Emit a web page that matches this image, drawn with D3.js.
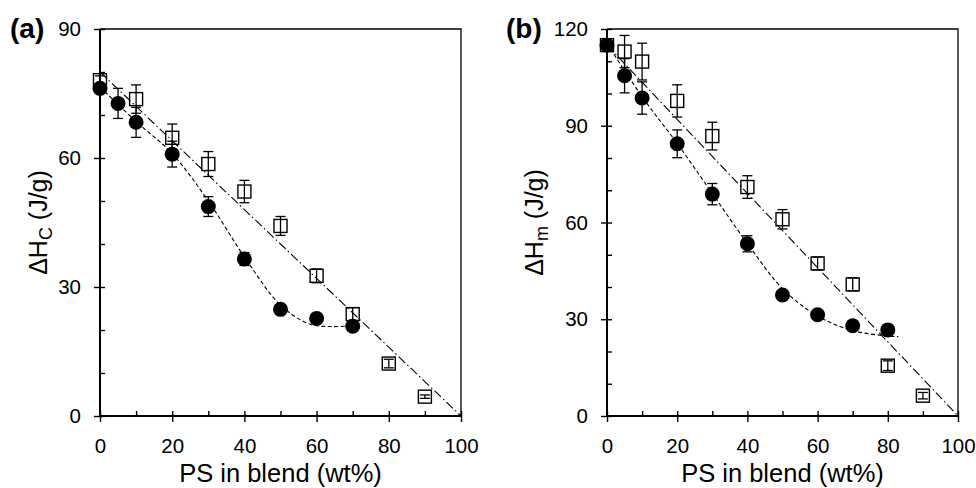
<!DOCTYPE html>
<html>
<head>
<meta charset="utf-8">
<script src="https://cdn.jsdelivr.net/npm/d3@7"></script>
<style>
  body { margin: 0; background: #fff; }
  svg { display: block; font-family: Arial, "Liberation Sans", sans-serif; }
</style>
</head>
<body>
<svg id="chart" width="976" height="488"></svg>
<script>
// panel (a): crystallization enthalpy
const psCircleA = [0, 5, 10, 20, 30, 40, 50, 60, 70];
const hcCircle = [76.2, 72.7, 68.3, 60.9, 48.7, 36.5, 24.8, 22.7, 20.9];
const hcCircleErr = [1, 3.5, 3.5, 3, 2.3, 1.5, 0.6, 0.5, 0.5];
const psSquareA = [0, 10, 20, 30, 40, 50, 60, 70, 80, 90];
const hcSquare = [78.1, 73.7, 64.7, 58.6, 52.2, 44.2, 32.6, 23.7, 12.2, 4.5];
const hcSquareErr = [1, 3.3, 3.2, 2.9, 2.6, 2.2, 1.6, 1.5, 1, 0.4];
// fitted guide lines
const hcCurveX = [0, 10, 20, 30, 40, 50, 58, 64, 70];
const hcCurveY = [76.5, 68.5, 61, 50, 37, 25.8, 21.4, 20.8, 21];
const hcLineX = [0, 100];
const hcLineY = [80, 0];

// panel (b): melting enthalpy
const psCircleB = [0, 5, 10, 20, 30, 40, 50, 60, 70, 80];
const hmCircle = [115, 105.5, 98.6, 84.4, 68.8, 53.4, 37.5, 31.4, 28, 26.7];
const hmCircleErr = [1.5, 5.3, 5, 4.3, 3.3, 2.5, 1, 0.8, 0.6, 0.6];
const psSquareB = [0, 5, 10, 20, 30, 40, 50, 60, 70, 80, 90];
const hmSquare = [115, 113, 109.9, 97.7, 86.8, 71, 61, 47.3, 40.8, 15.6, 6.3];
const hmSquareErr = [1.5, 5, 5.7, 5, 4.3, 3.5, 3, 2, 2, 1.5, 1];
const hmCurveX = [0, 10, 20, 30, 40, 50, 60, 70, 80, 83];
const hmCurveY = [115.5, 99, 84.5, 69, 53.5, 39.5, 31, 26.5, 24.8, 24.6];
const hmLineX = [0, 100];
const hmLineY = [115, 0];

const xTicks = [0, 20, 40, 60, 80, 100];

const svg = d3.select('#chart');

function zip(xs, ys, es) {
  return xs.map((x, i) => ({ x, y: ys[i], e: es ? es[i] : 0 }));
}

function drawPanel(p) {
  const { left, right, top, bottom, yMax, yTicks } = p;
  const x = d3.scaleLinear().domain([0, 100]).range([left, right]);
  const y = d3.scaleLinear().domain([0, yMax]).range([bottom, top]);
  const g = svg.append('g');

  // frame (top/right thin)
  g.append('path')
    .attr('d', `M${left},${top}H${right}V${bottom}`)
    .attr('fill', 'none').attr('stroke', '#000').attr('stroke-width', 1.3);

  // inward ticks every 10
  const yIn = g.append('g').attr('transform', `translate(${left},0)`)
    .call(d3.axisLeft(y).tickValues(d3.range(0, yMax + 1, 10)).tickSize(-5).tickFormat(''));
  const xIn = g.append('g').attr('transform', `translate(0,${bottom})`)
    .call(d3.axisBottom(x).tickValues(d3.range(0, 101, 10)).tickSize(-5).tickFormat(''));

  // outward major ticks with labels
  const yOut = g.append('g').attr('transform', `translate(${left},0)`)
    .call(d3.axisLeft(y).tickValues(yTicks).tickSize(6).tickPadding(13).tickFormat(d3.format('d')));
  const xOut = g.append('g').attr('transform', `translate(0,${bottom})`)
    .call(d3.axisBottom(x).tickValues(xTicks).tickSize(6).tickPadding(16).tickFormat(d3.format('d')));

  [yIn, xIn, yOut, xOut].forEach(a => {
    a.select('.domain').remove();
    a.selectAll('line').attr('stroke', '#000').attr('stroke-width', 1.4);
    a.selectAll('text').attr('fill', '#000').attr('font-size', 20.5)
      .attr('font-family', 'Arial, "Liberation Sans", sans-serif');
  });

  // left and bottom axis lines (thick)
  g.append('path')
    .attr('d', `M${left},${top}V${bottom}H${right}`)
    .attr('fill', 'none').attr('stroke', '#000').attr('stroke-width', 2);

  const line = d3.line().x(d => x(d.x)).y(d => y(d.y));

  // straight dash-dot guide for open squares
  g.append('path')
    .datum(zip(p.lineX, p.lineY))
    .attr('d', line)
    .attr('fill', 'none').attr('stroke', '#000').attr('stroke-width', 1.1)
    .attr('stroke-dasharray', '9,3,1.5,3');

  // dashed curve for filled circles
  g.append('path')
    .datum(zip(p.curveX, p.curveY))
    .attr('d', line.curve(d3.curveCatmullRom.alpha(0.5)))
    .attr('fill', 'none').attr('stroke', '#000').attr('stroke-width', 1.1)
    .attr('stroke-dasharray', '4,2.5');

  const sq = zip(p.sqX, p.sqY, p.sqErr);
  const ci = zip(p.ciX, p.ciY, p.ciErr);

  function errorBars(data) {
    const eb = g.append('g').attr('stroke', '#000').attr('stroke-width', 1.3);
    eb.selectAll('.v').data(data).join('line')
      .attr('x1', d => x(d.x)).attr('x2', d => x(d.x))
      .attr('y1', d => y(d.y - d.e)).attr('y2', d => y(d.y + d.e));
    eb.selectAll('.t').data(data).join('line')
      .attr('x1', d => x(d.x) - 5).attr('x2', d => x(d.x) + 5)
      .attr('y1', d => y(d.y + d.e)).attr('y2', d => y(d.y + d.e));
    eb.selectAll('.b').data(data).join('line')
      .attr('x1', d => x(d.x) - 5).attr('x2', d => x(d.x) + 5)
      .attr('y1', d => y(d.y - d.e)).attr('y2', d => y(d.y - d.e));
  }

  errorBars(sq);
  g.append('g').selectAll('rect').data(sq).join('rect')
    .attr('x', d => x(d.x) - 6.5).attr('y', d => y(d.y) - 6.5)
    .attr('width', 13).attr('height', 13)
    .attr('fill', 'none').attr('stroke', '#000').attr('stroke-width', 1.4);

  errorBars(ci);
  g.append('g').selectAll('circle').data(ci).join('circle')
    .attr('cx', d => x(d.x)).attr('cy', d => y(d.y)).attr('r', 7.5)
    .attr('fill', '#000');

  // panel letter
  g.append('text')
    .attr('x', p.letterX).attr('y', 38)
    .attr('font-size', 28).attr('font-weight', 'bold')
    .text(p.letter);

  // y title
  const yt = g.append('text')
    .attr('transform', `translate(${p.yTitleX},${(top + bottom) / 2}) rotate(-90)`)
    .attr('text-anchor', 'middle')
    .attr('font-size', 25);
  yt.append('tspan').text('\u0394H');
  yt.append('tspan').attr('font-size', 18).attr('dy', 5).text(p.sub);
  yt.append('tspan').attr('dy', -5).text(' (J/g)');

  // x title
  g.append('text')
    .attr('x', (left + right) / 2).attr('y', 482)
    .attr('text-anchor', 'middle')
    .attr('font-size', 25.5)
    .text('PS in blend (wt%)');
}

drawPanel({
  left: 100, right: 461, top: 29, bottom: 416, yMax: 90, yTicks: [0, 30, 60, 90],
  ciX: psCircleA, ciY: hcCircle, ciErr: hcCircleErr,
  sqX: psSquareA, sqY: hcSquare, sqErr: hcSquareErr,
  curveX: hcCurveX, curveY: hcCurveY, lineX: hcLineX, lineY: hcLineY,
  letter: '(a)', letterX: 10, yTitleX: 47, sub: 'C'
});

drawPanel({
  left: 607, right: 958, top: 29, bottom: 416, yMax: 120, yTicks: [0, 30, 60, 90, 120],
  ciX: psCircleB, ciY: hmCircle, ciErr: hmCircleErr,
  sqX: psSquareB, sqY: hmSquare, sqErr: hmSquareErr,
  curveX: hmCurveX, curveY: hmCurveY, lineX: hmLineX, lineY: hmLineY,
  letter: '(b)', letterX: 506, yTitleX: 543, sub: 'm'
});
</script>
</body>
</html>
